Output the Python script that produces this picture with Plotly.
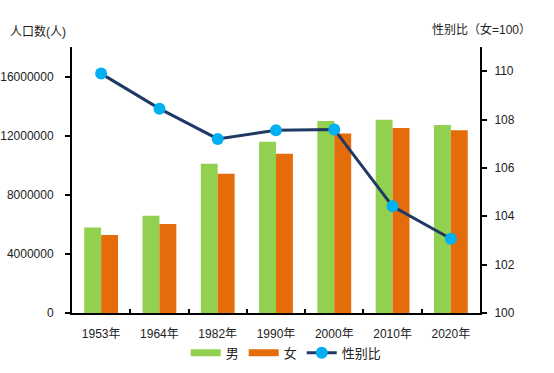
import plotly.graph_objects as go

categories = ["1953年", "1964年", "1982年", "1990年", "2000年", "2010年", "2020年"]
male = [5780000, 6580000, 10100000, 11590000, 13000000, 13080000, 12720000]
female = [5270000, 6030000, 9420000, 10780000, 12140000, 12520000, 12360000]
sex_ratio = [109.9, 108.45, 107.2, 107.56, 107.59, 104.41, 103.07]

left_ticks = [0, 4000000, 8000000, 12000000, 16000000]
right_ticks = [100, 102, 104, 106, 108, 110]

FONT = "Liberation Sans, Arial, Noto Sans CJK SC"
GREEN = "#92D050"
ORANGE = "#E46C0A"

fig = go.Figure()
fig.add_trace(go.Bar(x=categories, y=male, name="男", showlegend=False,
                     marker=dict(color=GREEN, line=dict(width=0))))
fig.add_trace(go.Bar(x=categories, y=female, name="女", showlegend=False,
                     marker=dict(color=ORANGE, line=dict(width=0))))
# legend-only entries with wide rectangle symbols
fig.add_trace(go.Scatter(x=[None], y=[None], name="男", mode="lines",
                         line=dict(color=GREEN, width=7)))
fig.add_trace(go.Scatter(x=[None], y=[None], name="女", mode="lines",
                         line=dict(color=ORANGE, width=7)))
fig.add_trace(go.Scatter(x=categories, y=sex_ratio, name="性别比", yaxis="y2", mode="lines+markers",
                         line=dict(color="#1F3864", width=3),
                         marker=dict(color="#00B0F0", size=12, line=dict(width=0))))

fig.update_layout(
    width=554, height=373,
    margin=dict(l=72, r=74, t=47, b=60, autoexpand=False),
    paper_bgcolor="white", plot_bgcolor="white",
    font=dict(family=FONT, size=12, color="#222222"),
    barmode="group", bargap=0.42, bargroupgap=0,
    showlegend=True,
    legend=dict(orientation="h", x=0.525, xanchor="center", y=-0.15, yanchor="middle",
                font=dict(size=13), itemwidth=30, traceorder="normal"),
    xaxis=dict(type="category", showline=True, linecolor="black", linewidth=2,
               ticks="inside", tickson="boundaries", ticklen=4, tickwidth=2, tickcolor="black",
               showgrid=False, tickfont=dict(size=12), ticklabelstandoff=9, automargin=False),
    yaxis=dict(range=[0, 18000000], tickvals=left_ticks, ticktext=[str(v) for v in left_ticks],
               showline=True, linecolor="black", linewidth=2, ticks="outside", ticklen=5,
               tickwidth=2, tickcolor="black", showgrid=False, zeroline=False,
               tickfont=dict(size=12), ticklabelstandoff=9, automargin=False),
    yaxis2=dict(range=[100, 111], tickvals=right_ticks, overlaying="y", side="right",
                showline=True, linecolor="black", linewidth=2, ticks="outside", ticklen=5,
                tickwidth=2, tickcolor="black", showgrid=False, zeroline=False,
                tickfont=dict(size=12), ticklabelstandoff=5, automargin=False),
    annotations=[
        dict(text="人口数(人)", xref="paper", yref="paper", x=-0.157, y=1.022, xanchor="left",
             yanchor="bottom", showarrow=False, font=dict(size=12)),
        dict(text="性别比（女=100）", xref="paper", yref="paper", x=1.13, y=1.03, xanchor="right",
             yanchor="bottom", showarrow=False, font=dict(size=12)),
    ],
)

fig.write_html("out.html", config={"displayModeBar": False},
               post_script="document.body.style.margin='0';document.body.style.padding='0';")
